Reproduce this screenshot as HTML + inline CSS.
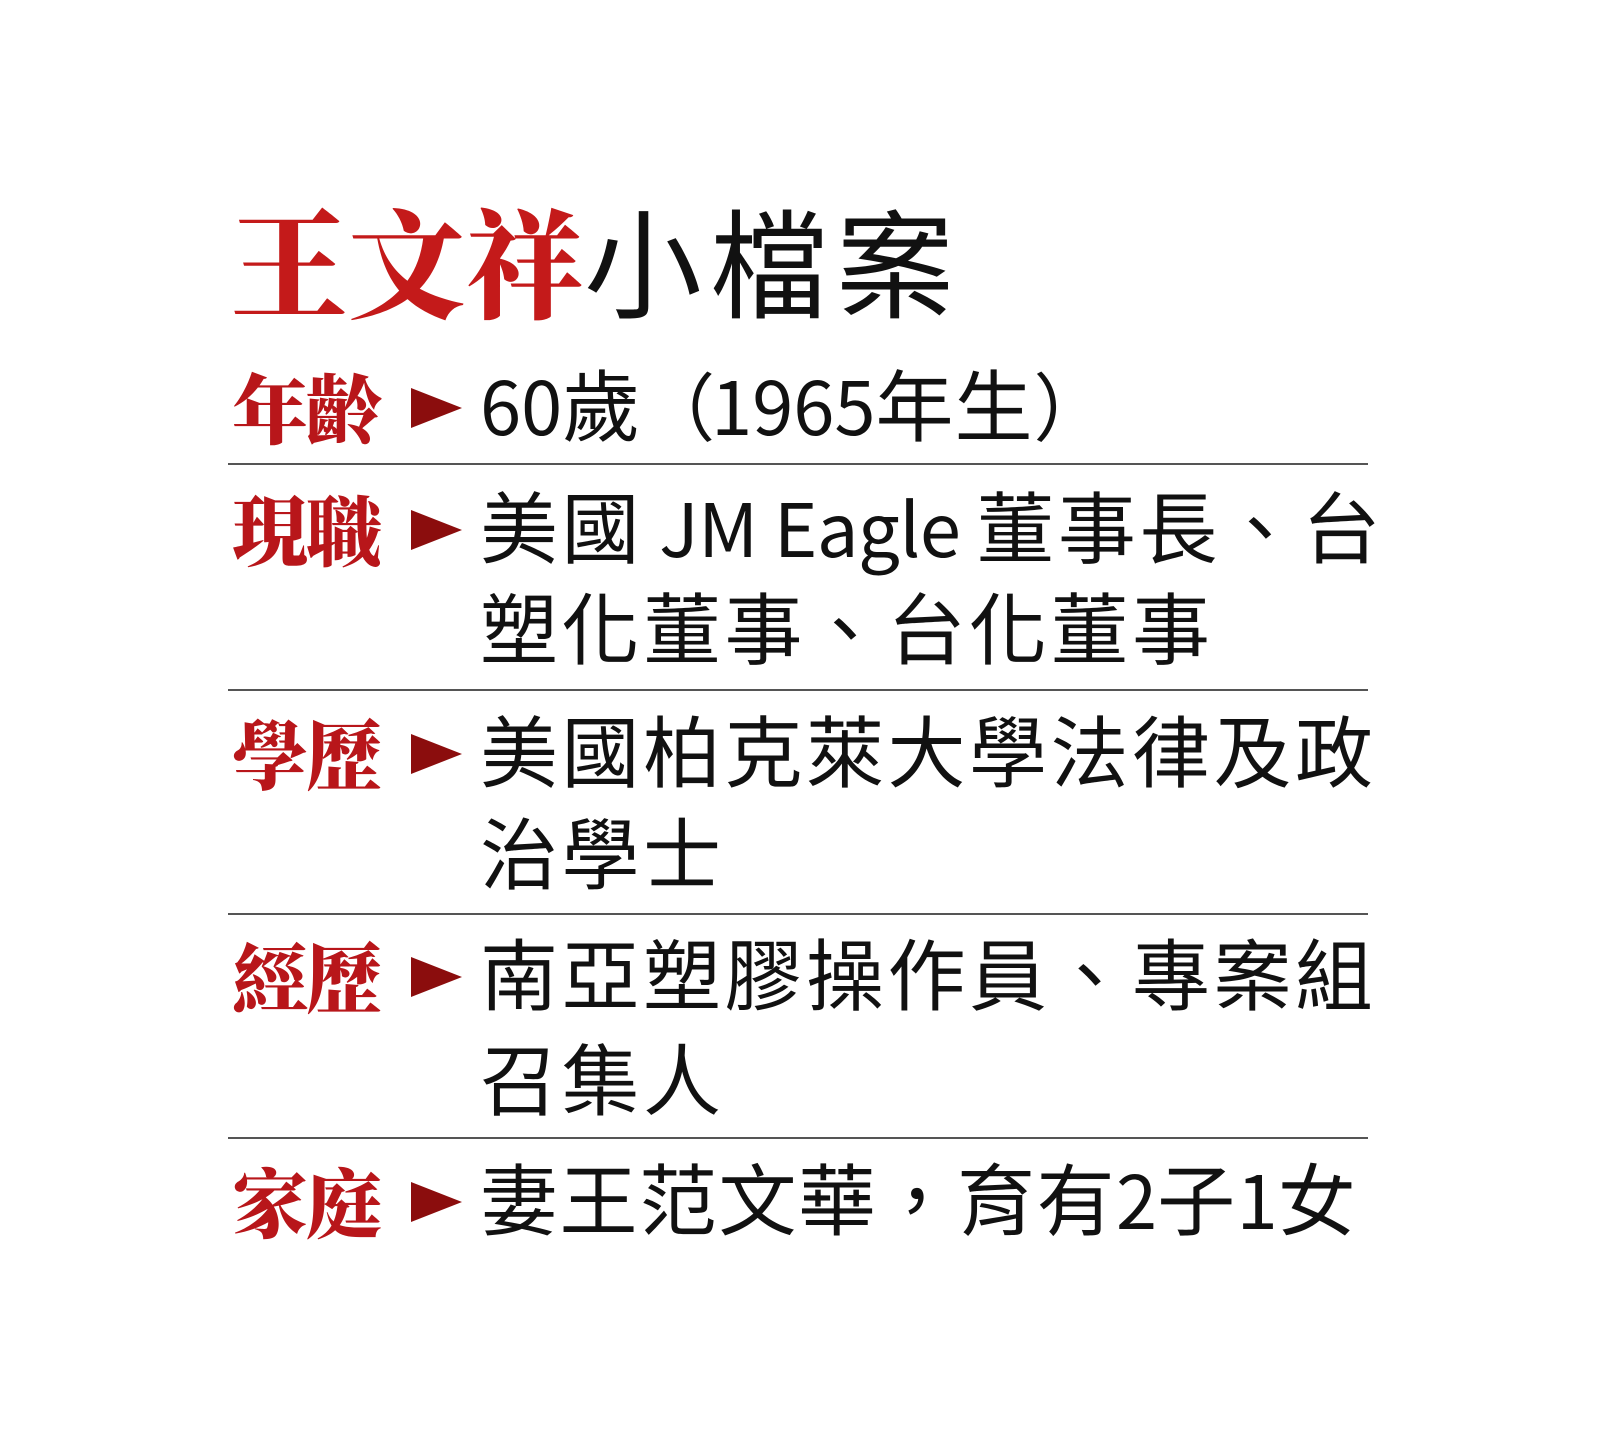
<!DOCTYPE html>
<html><head><meta charset="utf-8"><style>
html,body{margin:0;padding:0;background:#fff;width:1600px;height:1438px;overflow:hidden;position:relative}
.t{position:absolute;white-space:nowrap;line-height:1}
.title{top:210px;left:230px;font-size:118px}
.red{color:#c41a1a;font-family:"Liberation Serif","Noto Serif CJK SC",serif;font-weight:900}
.blk{color:#111;font-family:"Liberation Sans","Noto Sans CJK TC",sans-serif;font-weight:400;letter-spacing:8px}
.lab{left:232px;font-size:76px;color:#b8161a;font-family:"Noto Serif CJK SC",serif;font-weight:900;letter-spacing:-2px}
.arr{position:absolute;left:411px;width:0;height:0;border-top:20px solid transparent;border-bottom:20px solid transparent;border-left:51px solid #8b0d0d}
.txt{left:480px;font-size:78px;color:#111;font-family:"Noto Sans CJK TC",sans-serif;letter-spacing:3.5px}
.l{letter-spacing:0;font-size:74px}
.ln{position:absolute;left:228px;width:1140px;height:2px;background:#555}
</style></head><body>
<div class="t title"><span class="red">王文祥</span><span class="blk">小檔案</span></div>

<div class="t lab" style="top:368px">年齡</div>
<div class="arr" style="top:388px"></div>
<div class="t txt" style="top:363px;letter-spacing:1px"><span class="l">60</span>歲<span class="l" style="letter-spacing:-4px">（</span><span class="l">1965</span>年生<span class="l">）</span></div>
<div class="ln" style="top:463px"></div>

<div class="t lab" style="top:490px">現職</div>
<div class="arr" style="top:510px"></div>
<div class="t txt" style="top:485px">美國<span class="l" style="letter-spacing:-0.5px"> JM Eagle </span>董事長、台</div>
<div class="t txt" style="top:586px">塑化董事、台化董事</div>
<div class="ln" style="top:689px"></div>

<div class="t lab" style="top:714px">學歷</div>
<div class="arr" style="top:734px"></div>
<div class="t txt" style="top:709px">美國柏克萊大學法律及政</div>
<div class="t txt" style="top:811px">治學士</div>
<div class="ln" style="top:913px"></div>

<div class="t lab" style="top:937px">經歷</div>
<div class="arr" style="top:957px"></div>
<div class="t txt" style="top:932px">南亞塑膠操作員、專案組</div>
<div class="t txt" style="top:1037px">召集人</div>
<div class="ln" style="top:1137px"></div>

<div class="t lab" style="top:1162px">家庭</div>
<div class="arr" style="top:1182px"></div>
<div class="t txt" style="top:1157px;letter-spacing:1.5px">妻王范文華，育有<span class="l">2</span>子<span class="l">1</span>女</div>
</body></html>
